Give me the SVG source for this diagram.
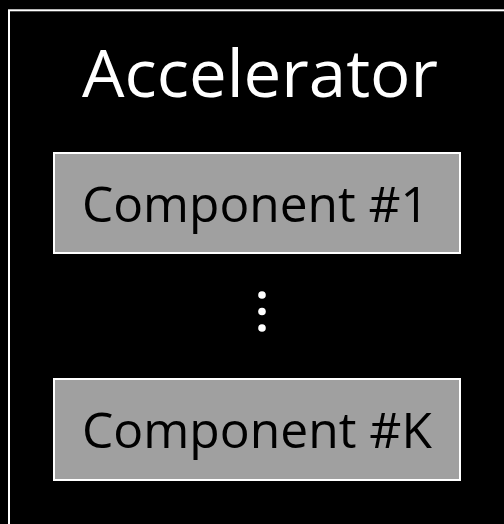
<svg xmlns="http://www.w3.org/2000/svg" width="504" height="524" viewBox="0 0 504 524">
<style>
.comp rect{fill:#a0a0a0;stroke:#ffffff;stroke-width:2}
.comp text{font-family:"Open Sans","Liberation Sans",sans-serif;font-size:50px;fill:#000;text-anchor:middle}
.title{font-family:"Open Sans","Liberation Sans",sans-serif;font-size:65px;fill:#fff;text-anchor:middle}
</style>
<rect x="0" y="0" width="504" height="524" fill="#000"/>
<g id="accelerator">
<rect x="9" y="10.3" width="510" height="530" fill="none" stroke="#fff" stroke-width="2"/>
<text class="title" x="260" y="97" textLength="356" lengthAdjust="spacingAndGlyphs">Accelerator</text>
</g>
<g id="component1" class="comp">
<rect x="54" y="153" width="406" height="100"/>
<text x="255.5" y="222" textLength="347" lengthAdjust="spacingAndGlyphs">Component #1</text>
</g>
<g id="ellipsis" fill="#fff">
<circle cx="262" cy="295" r="3.8"/>
<circle cx="262" cy="311.5" r="3.8"/>
<circle cx="262" cy="328" r="3.8"/>
</g>
<g id="componentK" class="comp">
<rect x="54" y="379" width="406" height="101"/>
<text x="257" y="448" textLength="350" lengthAdjust="spacingAndGlyphs">Component #K</text>
</g>
<g id="connectors"/>
</svg>
